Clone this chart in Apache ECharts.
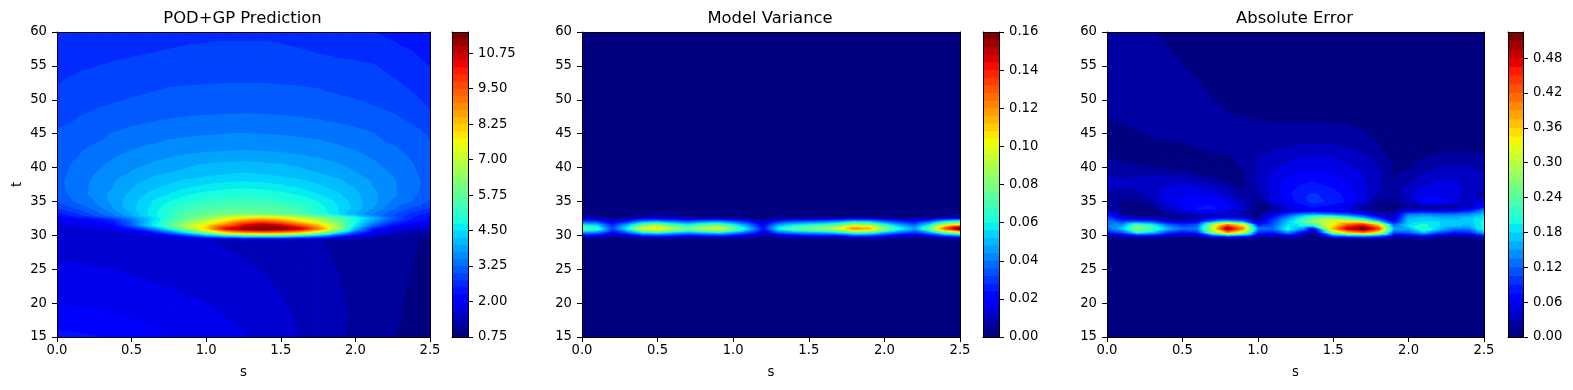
<!DOCTYPE html>
<html>
<head>
<meta charset="utf-8">
<title>POD+GP</title>
<style>
  html, body { margin: 0; padding: 0; background: #fff; }
  #chart { width: 1573px; height: 390px; }
</style>
<script src="https://cdn.jsdelivr.net/npm/echarts@6/dist/echarts.min.js"></script>
</head>
<body>
<div id="chart"></div>
<script>
// values, rows go from the top of the plot (t=60) to the bottom (t=15)
const predS = [0, 0.125, 0.25, 0.375, 0.5, 0.625, 0.75, 0.875, 1, 1.125, 1.25, 1.375, 1.5, 1.625, 1.75, 1.875, 2, 2.125, 2.25, 2.375, 2.5];
const predT = [60, 58, 55, 52, 50, 48, 46, 45, 44, 43, 42, 41, 40, 39, 38, 37, 36, 35, 34, 33, 32.5, 32, 31.5, 31, 30.5, 30, 29.5, 25, 20, 15];
const predValues = [
  [2.55,2.58,2.6,2.62,2.64,2.66,2.68,2.69,2.7,2.7,2.7,2.7,2.68,2.65,2.62,2.58,2.54,2.5,2.46,2.41,2.36],
  [2.58,2.61,2.64,2.67,2.69,2.71,2.73,2.75,2.76,2.77,2.77,2.77,2.76,2.73,2.69,2.65,2.61,2.56,2.52,2.47,2.42],
  [2.68,2.71,2.74,2.77,2.79,2.81,2.83,2.85,2.86,2.87,2.87,2.87,2.86,2.85,2.83,2.81,2.79,2.76,2.68,2.58,2.49],
  [2.75,2.8,2.85,2.89,2.93,2.96,2.99,3.0,3.01,3.02,3.02,3.02,3.01,3.0,2.98,2.95,2.91,2.86,2.8,2.72,2.62],
  [2.8,2.88,2.93,2.97,3.01,3.04,3.07,3.1,3.12,3.13,3.13,3.13,3.12,3.1,3.07,3.03,3.0,2.95,2.88,2.79,2.7],
  [2.88,2.96,3.02,3.07,3.11,3.14,3.17,3.2,3.22,3.23,3.24,3.23,3.22,3.2,3.17,3.14,3.1,3.06,3.0,2.88,2.76],
  [2.98,3.04,3.13,3.19,3.25,3.29,3.34,3.38,3.41,3.43,3.44,3.43,3.41,3.38,3.34,3.29,3.24,3.18,3.11,3.02,2.9],
  [3.01,3.1,3.19,3.26,3.31,3.35,3.4,3.44,3.47,3.49,3.5,3.49,3.47,3.44,3.4,3.35,3.3,3.25,3.18,3.08,2.97],
  [3.04,3.12,3.21,3.29,3.37,3.44,3.5,3.54,3.57,3.59,3.6,3.59,3.57,3.54,3.5,3.44,3.37,3.29,3.2,3.1,3.0],
  [3.07,3.17,3.28,3.38,3.46,3.53,3.59,3.63,3.66,3.68,3.69,3.68,3.66,3.63,3.59,3.53,3.46,3.38,3.27,3.15,3.04],
  [3.1,3.21,3.35,3.45,3.53,3.6,3.67,3.73,3.77,3.79,3.8,3.79,3.77,3.73,3.67,3.6,3.53,3.45,3.34,3.2,3.07],
  [3.12,3.26,3.39,3.51,3.61,3.71,3.79,3.87,3.92,3.95,3.97,3.95,3.92,3.87,3.79,3.71,3.61,3.5,3.38,3.24,3.09],
  [3.13,3.3,3.44,3.57,3.7,3.8,3.9,3.99,4.07,4.12,4.14,4.12,4.07,3.99,3.9,3.8,3.7,3.56,3.43,3.28,3.1],
  [3.14,3.33,3.49,3.63,3.78,3.93,4.02,4.09,4.17,4.24,4.27,4.24,4.17,4.09,4.02,3.93,3.78,3.62,3.48,3.31,3.12],
  [3.16,3.37,3.53,3.72,3.9,4.04,4.17,4.29,4.38,4.44,4.47,4.44,4.38,4.29,4.17,4.04,3.9,3.71,3.52,3.35,3.14],
  [3.15,3.37,3.55,3.74,3.98,4.16,4.32,4.48,4.58,4.66,4.7,4.66,4.58,4.48,4.32,4.16,3.98,3.73,3.54,3.35,3.12],
  [3.1,3.33,3.56,3.82,4.05,4.3,4.5,4.71,4.83,4.92,4.98,4.92,4.83,4.71,4.5,4.3,4.05,3.81,3.55,3.31,3.07],
  [3.0,3.27,3.47,3.82,4.12,4.45,4.73,4.96,5.07,5.18,5.24,5.18,5.07,4.96,4.73,4.45,4.12,3.81,3.46,3.25,2.97],
  [2.72,2.98,3.3,3.72,4.15,4.52,4.9,5.24,5.5,5.58,5.63,5.58,5.5,5.24,4.9,4.52,4.15,3.7,3.3,2.96,2.7],
  [2.25,2.6,3.0,3.42,3.95,4.55,5.05,5.6,5.8,5.98,6.05,5.98,5.8,5.6,5.05,4.55,3.95,3.42,3.0,2.6,2.3],
  [2.0,2.1,2.3,2.7,3.4,4.2,5.0,5.7,6.3,7.0,7.7,7.95,7.7,7.1,6.4,5.7,4.9,4.0,3.1,2.5,2.2],
  [1.85,1.9,2.05,2.4,3.2,4.3,5.2,6.1,6.9,7.9,8.9,9.4,8.9,7.9,7.0,6.0,4.8,3.6,2.7,2.2,2.0],
  [1.7,1.75,1.85,2.2,3.1,4.4,5.5,6.7,7.7,8.8,10.2,10.8,10.3,9.3,8.1,6.5,4.6,3.1,2.2,1.85,1.7],
  [1.62,1.64,1.68,1.8,2.3,3.2,4.6,6.3,8.0,10.2,11.1,11.45,11.3,10.6,9.0,6.7,4.0,2.3,1.7,1.5,1.45],
  [1.6,1.6,1.61,1.65,1.8,2.2,3.2,4.6,6.2,7.8,8.7,9.0,8.8,8.1,6.8,4.7,2.9,1.9,1.55,1.4,1.3],
  [1.6,1.6,1.6,1.6,1.6,1.7,2.0,2.7,3.6,4.4,4.9,5.1,5.0,4.5,3.7,2.6,1.8,1.4,1.25,1.1,1.02],
  [1.62,1.62,1.61,1.6,1.58,1.56,1.54,1.52,1.5,1.47,1.44,1.41,1.37,1.31,1.26,1.21,1.17,1.13,1.08,1.02,0.98],
  [1.79,1.78,1.76,1.75,1.72,1.69,1.66,1.63,1.6,1.56,1.53,1.49,1.43,1.37,1.31,1.25,1.19,1.13,1.06,1.0,0.94],
  [1.98,1.96,1.94,1.91,1.88,1.85,1.82,1.78,1.75,1.7,1.65,1.59,1.52,1.45,1.37,1.3,1.2,1.12,1.05,0.97,0.9],
  [2.32,2.29,2.26,2.19,2.13,2.07,2.0,1.94,1.88,1.82,1.76,1.66,1.58,1.49,1.39,1.29,1.2,1.1,1.01,0.93,0.86]
];

const varS = [0, 0.1, 0.2, 0.3, 0.4, 0.5, 0.6, 0.7, 0.8, 0.9, 1, 1.1, 1.2, 1.3, 1.4, 1.5, 1.6, 1.7, 1.8, 1.9, 2, 2.1, 2.2, 2.3, 2.4, 2.5];
const varT = [60, 33.5, 33, 32.5, 32, 31.5, 31, 30.5, 30, 29.5, 15];
const varValues = [
  [0,0,0,0,0,0,0,0,0,0,0,0,0,0,0,0,0,0,0,0,0,0,0,0,0,0],
  [0.002,0,0,0,0.001,0.002,0.001,0,0,0,0,0,0,0,0,0,0,0,0,0,0,0,0,0,0.001,0.002],
  [0.005,0.002,0,0,0.005,0.006,0.005,0.002,0,0,0,0,0,0,0,0,0,0,0,0,0,0,0,0,0.002,0.005],
  [0.009,0.007,0.002,0.003,0.008,0.01,0.008,0.005,0.004,0.004,0.003,0.002,0.001,0.002,0.003,0.003,0.003,0.004,0.005,0.005,0.003,0.002,0.002,0.003,0.006,0.009],
  [0.03,0.028,0.012,0.022,0.04,0.044,0.037,0.032,0.037,0.04,0.033,0.023,0.009,0.025,0.03,0.033,0.035,0.04,0.05,0.047,0.034,0.026,0.02,0.031,0.052,0.06],
  [0.054,0.05,0.025,0.045,0.071,0.079,0.066,0.057,0.066,0.072,0.058,0.04,0.017,0.044,0.054,0.058,0.062,0.071,0.088,0.084,0.061,0.046,0.034,0.056,0.09,0.105],
  [0.072,0.065,0.03,0.058,0.095,0.105,0.088,0.076,0.088,0.096,0.078,0.052,0.022,0.058,0.072,0.078,0.083,0.095,0.118,0.112,0.082,0.06,0.045,0.075,0.125,0.16],
  [0.044,0.04,0.02,0.036,0.057,0.063,0.053,0.046,0.053,0.058,0.047,0.033,0.014,0.036,0.043,0.047,0.05,0.057,0.071,0.067,0.049,0.037,0.028,0.045,0.075,0.09],
  [0.016,0.014,0.006,0.012,0.022,0.025,0.02,0.017,0.02,0.022,0.019,0.011,0.005,0.012,0.017,0.019,0.019,0.022,0.028,0.027,0.019,0.014,0.01,0.017,0.03,0.038],
  [0,0,0,0,0,0,0,0,0,0,0,0,0,0,0,0,0,0,0,0,0,0,0,0,0,0],
  [0,0,0,0,0,0,0,0,0,0,0,0,0,0,0,0,0,0,0,0,0,0,0,0,0,0]
];

const errS = [0, 0.1, 0.2, 0.3, 0.4, 0.5, 0.6, 0.7, 0.8, 0.9, 1, 1.1, 1.2, 1.3, 1.37, 1.5, 1.6, 1.7, 1.8, 1.9, 2, 2.1, 2.2, 2.3, 2.4, 2.5];
const errT = [60, 56, 52, 48, 45, 43, 42, 41, 40, 39, 38, 37, 36, 35, 34, 33.5, 33, 32.5, 32, 31.5, 31, 30.5, 30, 29.5, 15];
const errValues = [
  [0.02,0.019,0.018,0.016,0.012,0.01,0.009,0.008,0.007,0.006,0.006,0.005,0.005,0.005,0.005,0.005,0.005,0.005,0.004,0.004,0.004,0.004,0.004,0.004,0.004,0.004],
  [0.021,0.021,0.02,0.018,0.017,0.014,0.012,0.01,0.009,0.008,0.007,0.006,0.006,0.006,0.006,0.005,0.005,0.005,0.005,0.004,0.004,0.004,0.004,0.004,0.004,0.004],
  [0.022,0.022,0.021,0.02,0.019,0.017,0.016,0.013,0.011,0.009,0.008,0.007,0.007,0.006,0.006,0.006,0.006,0.005,0.005,0.005,0.004,0.004,0.004,0.004,0.004,0.004],
  [0.016,0.017,0.018,0.019,0.019,0.018,0.018,0.017,0.015,0.014,0.012,0.011,0.011,0.011,0.011,0.011,0.01,0.009,0.008,0.007,0.006,0.005,0.005,0.004,0.004,0.004],
  [0.012,0.013,0.014,0.016,0.017,0.018,0.019,0.019,0.02,0.02,0.02,0.02,0.02,0.02,0.02,0.019,0.018,0.016,0.012,0.009,0.007,0.005,0.004,0.004,0.004,0.004],
  [0.012,0.011,0.011,0.012,0.013,0.013,0.015,0.017,0.018,0.021,0.025,0.027,0.03,0.032,0.033,0.032,0.029,0.024,0.016,0.009,0.007,0.006,0.006,0.006,0.006,0.006],
  [0.012,0.01,0.01,0.01,0.01,0.01,0.012,0.014,0.015,0.02,0.027,0.032,0.037,0.04,0.041,0.04,0.036,0.03,0.019,0.01,0.008,0.01,0.014,0.016,0.017,0.016],
  [0.017,0.014,0.012,0.01,0.009,0.008,0.008,0.01,0.012,0.018,0.03,0.036,0.043,0.048,0.05,0.048,0.042,0.035,0.026,0.013,0.01,0.017,0.024,0.027,0.027,0.023],
  [0.022,0.019,0.017,0.014,0.012,0.01,0.008,0.008,0.01,0.015,0.031,0.04,0.05,0.056,0.057,0.054,0.048,0.04,0.03,0.012,0.013,0.023,0.03,0.031,0.03,0.024],
  [0.03,0.028,0.028,0.028,0.026,0.022,0.014,0.01,0.008,0.012,0.031,0.046,0.056,0.062,0.064,0.06,0.052,0.044,0.032,0.012,0.018,0.03,0.038,0.044,0.042,0.03],
  [0.032,0.031,0.032,0.036,0.038,0.036,0.03,0.022,0.012,0.012,0.032,0.05,0.064,0.072,0.074,0.068,0.058,0.047,0.032,0.014,0.024,0.038,0.045,0.046,0.042,0.032],
  [0.032,0.03,0.032,0.04,0.046,0.05,0.048,0.04,0.025,0.012,0.028,0.052,0.068,0.078,0.08,0.074,0.064,0.05,0.032,0.018,0.035,0.048,0.052,0.05,0.04,0.03],
  [0.03,0.022,0.025,0.035,0.05,0.058,0.058,0.052,0.038,0.018,0.02,0.05,0.07,0.087,0.092,0.082,0.068,0.05,0.025,0.018,0.04,0.056,0.06,0.052,0.035,0.022],
  [0.025,0.012,0.012,0.025,0.05,0.062,0.07,0.068,0.055,0.032,0.012,0.045,0.065,0.085,0.095,0.085,0.07,0.045,0.012,0.012,0.03,0.062,0.065,0.05,0.03,0.04],
  [0.025,0.012,0.005,0.008,0.035,0.055,0.075,0.078,0.065,0.04,0.01,0.012,0.04,0.06,0.07,0.06,0.04,0.01,0.005,0.007,0.012,0.012,0.008,0.005,0.03,0.08],
  [0.04,0.012,0.005,0.006,0.025,0.04,0.05,0.05,0.045,0.03,0.005,0.02,0.04,0.06,0.065,0.06,0.05,0.035,0.015,0.01,0.05,0.06,0.06,0.07,0.09,0.14],
  [0.08,0.025,0.01,0.01,0.015,0.02,0.025,0.025,0.03,0.02,0.008,0.05,0.1,0.14,0.15,0.13,0.11,0.08,0.04,0.025,0.13,0.14,0.13,0.13,0.14,0.17],
  [0.11,0.05,0.025,0.025,0.015,0.012,0.02,0.05,0.06,0.05,0.012,0.08,0.14,0.2,0.25,0.27,0.22,0.16,0.08,0.035,0.16,0.17,0.16,0.16,0.17,0.19],
  [0.13,0.09,0.1,0.09,0.05,0.03,0.05,0.12,0.16,0.13,0.03,0.1,0.17,0.23,0.27,0.32,0.32,0.28,0.17,0.06,0.17,0.18,0.18,0.17,0.17,0.2],
  [0.13,0.14,0.22,0.19,0.12,0.09,0.11,0.27,0.4,0.33,0.08,0.11,0.18,0.2,0.2,0.33,0.42,0.45,0.35,0.12,0.18,0.2,0.18,0.17,0.16,0.2],
  [0.12,0.16,0.27,0.23,0.16,0.12,0.13,0.31,0.5,0.39,0.13,0.12,0.2,0.14,0.03,0.37,0.48,0.52,0.43,0.15,0.15,0.22,0.17,0.13,0.13,0.2],
  [0.08,0.11,0.2,0.17,0.1,0.07,0.09,0.27,0.38,0.3,0.09,0.08,0.14,0.06,0.012,0.28,0.36,0.4,0.33,0.11,0.12,0.17,0.11,0.08,0.09,0.16],
  [0.025,0.035,0.06,0.05,0.03,0.02,0.03,0.09,0.13,0.1,0.03,0.03,0.05,0.02,0.005,0.11,0.14,0.15,0.12,0.04,0.05,0.07,0.03,0.02,0.03,0.07],
  [0,0,0,0,0,0,0,0,0,0,0,0,0,0,0,0,0,0,0,0,0,0,0,0,0,0],
  [0,0,0,0,0,0,0,0,0,0,0,0,0,0,0,0,0,0,0,0,0,0,0,0,0,0]
];

const predBarTicks = [0.75, 2, 3.25, 4.5, 5.75, 7, 8.25, 9.5, 10.75];
const varBarTicks = [0, 0.02, 0.04, 0.06, 0.08, 0.1, 0.12, 0.14, 0.16];
const errBarTicks = [0, 0.06, 0.12, 0.18, 0.24, 0.3, 0.36, 0.42, 0.48];

const FONT = 'DejaVu Sans';

const panels = [
  { title: 'POD+GP Prediction', S: predS, T: predT, Z: predValues, low: 0.75, step: 0.25, bands: 43, barTicks: predBarTicks,
    left: 57, width: 373, barLeft: 452, barWidth: 16, yName: 't' },
  { title: 'Model Variance', S: varS, T: varT, Z: varValues, low: 0, step: 0.004, bands: 40, barTicks: varBarTicks,
    left: 582, width: 378, barLeft: 983, barWidth: 16, yName: '' },
  { title: 'Absolute Error', S: errS, T: errT, Z: errValues, low: 0, step: 0.015, bands: 35, barTicks: errBarTicks,
    left: 1107, width: 377, barLeft: 1508, barWidth: 15, yName: '' }
];
const TOP = 32, HEIGHT = 305;

// matplotlib jet
function jet(f) {
  const ramp = (pts) => {
    for (let i = 1; i < pts.length; i++) {
      if (f <= pts[i][0]) {
        const a = pts[i - 1], b = pts[i];
        return a[1] + (b[1] - a[1]) * (f - a[0]) / (b[0] - a[0]);
      }
    }
    return pts[pts.length - 1][1];
  };
  const r = ramp([[0, 0], [0.35, 0], [0.66, 1], [0.89, 1], [1, 0.5]]);
  const g = ramp([[0, 0], [0.125, 0], [0.375, 1], [0.64, 1], [0.91, 0], [1, 0]]);
  const b = ramp([[0, 0.5], [0.11, 1], [0.34, 1], [0.65, 0], [1, 0]]);
  return 'rgb(' + Math.round(r * 255) + ',' + Math.round(g * 255) + ',' + Math.round(b * 255) + ')';
}

function clipPoly(poly, level, keepAbove) {
  const out = [];
  for (let i = 0; i < poly.length; i++) {
    const a = poly[i], b = poly[(i + 1) % poly.length];
    const aIn = keepAbove ? a[2] >= level : a[2] <= level;
    const bIn = keepAbove ? b[2] >= level : b[2] <= level;
    if (aIn) out.push(a);
    if (aIn !== bIn) {
      const f = (level - a[2]) / (b[2] - a[2]);
      out.push([a[0] + f * (b[0] - a[0]), a[1] + f * (b[1] - a[1]), level]);
    }
  }
  return out;
}

// filled contour pieces per band, in data coordinates
function contourBands(p) {
  const result = [];
  for (let k = 0; k < p.bands; k++) result.push([]);
  for (let j = 0; j + 1 < p.T.length; j++) {
    for (let i = 0; i + 1 < p.S.length; i++) {
      const a = [p.S[i], p.T[j], p.Z[j][i]];
      const b = [p.S[i + 1], p.T[j], p.Z[j][i + 1]];
      const c = [p.S[i + 1], p.T[j + 1], p.Z[j + 1][i + 1]];
      const d = [p.S[i], p.T[j + 1], p.Z[j + 1][i]];
      [[a, b, c], [a, c, d]].forEach(tri => {
        for (let k = 0; k < p.bands; k++) {
          let poly = tri;
          if (k > 0) poly = clipPoly(poly, p.low + k * p.step, true);
          if (poly.length && k < p.bands - 1) poly = clipPoly(poly, p.low + (k + 1) * p.step, false);
          if (poly.length > 2) result[k].push(poly);
        }
      });
    }
  }
  return result;
}

const grid = [], xAxis = [], yAxis = [], series = [], title = [];

function frameAxis(gridIndex, pos, min, max) {
  return {
    gridIndex, position: pos, type: 'value', min, max, z: 5,
    axisLine: { show: true, onZero: false, lineStyle: { color: '#000', width: 1 } },
    axisTick: { show: false }, axisLabel: { show: false }, splitLine: { show: false }
  };
}

panels.forEach(p => {
  const plotGrid = grid.length;
  grid.push({ left: p.left, top: TOP, width: p.width, height: HEIGHT });
  const xIndex = xAxis.length, yIndex = yAxis.length;
  const labelStyle = { color: '#000', fontFamily: FONT, fontSize: 13.2 };
  xAxis.push({
    gridIndex: plotGrid, type: 'value', position: 'bottom', min: 0, max: 2.5, interval: 0.5, z: 5,
    name: 's', nameLocation: 'middle', nameGap: 29,
    nameTextStyle: { color: '#000', fontFamily: FONT, fontSize: 13.2 },
    axisLine: { show: true, onZero: false, lineStyle: { color: '#000', width: 1 } },
    axisTick: { show: true, length: 5, lineStyle: { color: '#000', width: 1 } },
    axisLabel: Object.assign({ show: true, margin: 7, showMinLabel: true, showMaxLabel: true, hideOverlap: false,
      formatter: v => v.toFixed(1) }, labelStyle),
    splitLine: { show: false }
  });
  yAxis.push({
    gridIndex: plotGrid, type: 'value', position: 'left', min: 15, max: 60, interval: 5, z: 5,
    name: p.yName, nameLocation: 'middle', nameGap: 33, nameRotate: 90,
    nameTextStyle: { color: '#000', fontFamily: FONT, fontSize: 13.2 },
    axisLine: { show: true, onZero: false, lineStyle: { color: '#000', width: 1 } },
    axisTick: { show: true, length: 5, lineStyle: { color: '#000', width: 1 } },
    axisLabel: Object.assign({ show: true, margin: 10, showMinLabel: true, showMaxLabel: true, hideOverlap: false }, labelStyle),
    splitLine: { show: false }
  });
  xAxis.push(frameAxis(plotGrid, 'top', 0, 2.5));
  yAxis.push(frameAxis(plotGrid, 'right', 15, 60));

  const pieces = contourBands(p);
  const colors = pieces.map((_, k) => jet(k / (p.bands - 1)));
  series.push({
    type: 'custom', coordinateSystem: 'cartesian2d', xAxisIndex: xIndex, yAxisIndex: yIndex,
    silent: true, animation: false, clip: true,
    data: pieces.map((_, k) => [k]),
    encode: { x: -1, y: -1 },
    renderItem: (params, api) => {
      const k = api.value(0);
      return {
        type: 'group',
        children: pieces[k].map(poly => ({
          type: 'polygon',
          shape: { points: poly.map(v => api.coord([v[0], v[1]])) },
          style: { fill: colors[k], stroke: colors[k], lineWidth: 1.4, lineJoin: 'round' }
        }))
      };
    }
  });

  // colour bar, each band painted from its lower level up so no seams show
  const barGrid = grid.length;
  const barMax = p.low + p.bands * p.step;
  grid.push({ left: p.barLeft, top: TOP, width: p.barWidth, height: HEIGHT });
  const barX = xAxis.length, barY = yAxis.length;
  xAxis.push(frameAxis(barGrid, 'bottom', 0, 1));
  yAxis.push({
    gridIndex: barGrid, type: 'value', position: 'right', min: p.low, max: barMax, z: 5,
    axisLine: { show: true, onZero: false, lineStyle: { color: '#000', width: 1 } },
    axisTick: { show: true, length: 5, customValues: p.barTicks, lineStyle: { color: '#000', width: 1 } },
    axisLabel: Object.assign({ show: true, margin: 10, customValues: p.barTicks, hideOverlap: false,
      formatter: v => v.toFixed(2) }, labelStyle),
    splitLine: { show: false }
  });
  xAxis.push(frameAxis(barGrid, 'top', 0, 1));
  yAxis.push(frameAxis(barGrid, 'left', p.low, barMax));
  series.push({
    type: 'custom', coordinateSystem: 'cartesian2d', xAxisIndex: barX, yAxisIndex: barY,
    silent: true, animation: false,
    data: pieces.map((_, k) => [k]),
    encode: { x: -1, y: -1 },
    renderItem: (params, api) => {
      const k = api.value(0);
      const a = api.coord([0, p.low + k * p.step]);
      const b = api.coord([1, barMax]);
      return {
        type: 'rect',
        shape: { x: a[0], y: b[1], width: b[0] - a[0], height: a[1] - b[1] },
        style: { fill: colors[k] }
      };
    }
  });

  title.push({
    text: p.title, left: p.left + p.width / 2 - 1, top: 11, padding: 0, textAlign: 'center',
    textStyle: { color: '#000', fontFamily: FONT, fontSize: 16.4, fontWeight: 'normal' }
  });
});

const chart = echarts.init(document.getElementById('chart'));
chart.setOption({
  backgroundColor: '#fff',
  animation: false,
  title, grid, xAxis, yAxis, series
});
</script>
</body>
</html>
